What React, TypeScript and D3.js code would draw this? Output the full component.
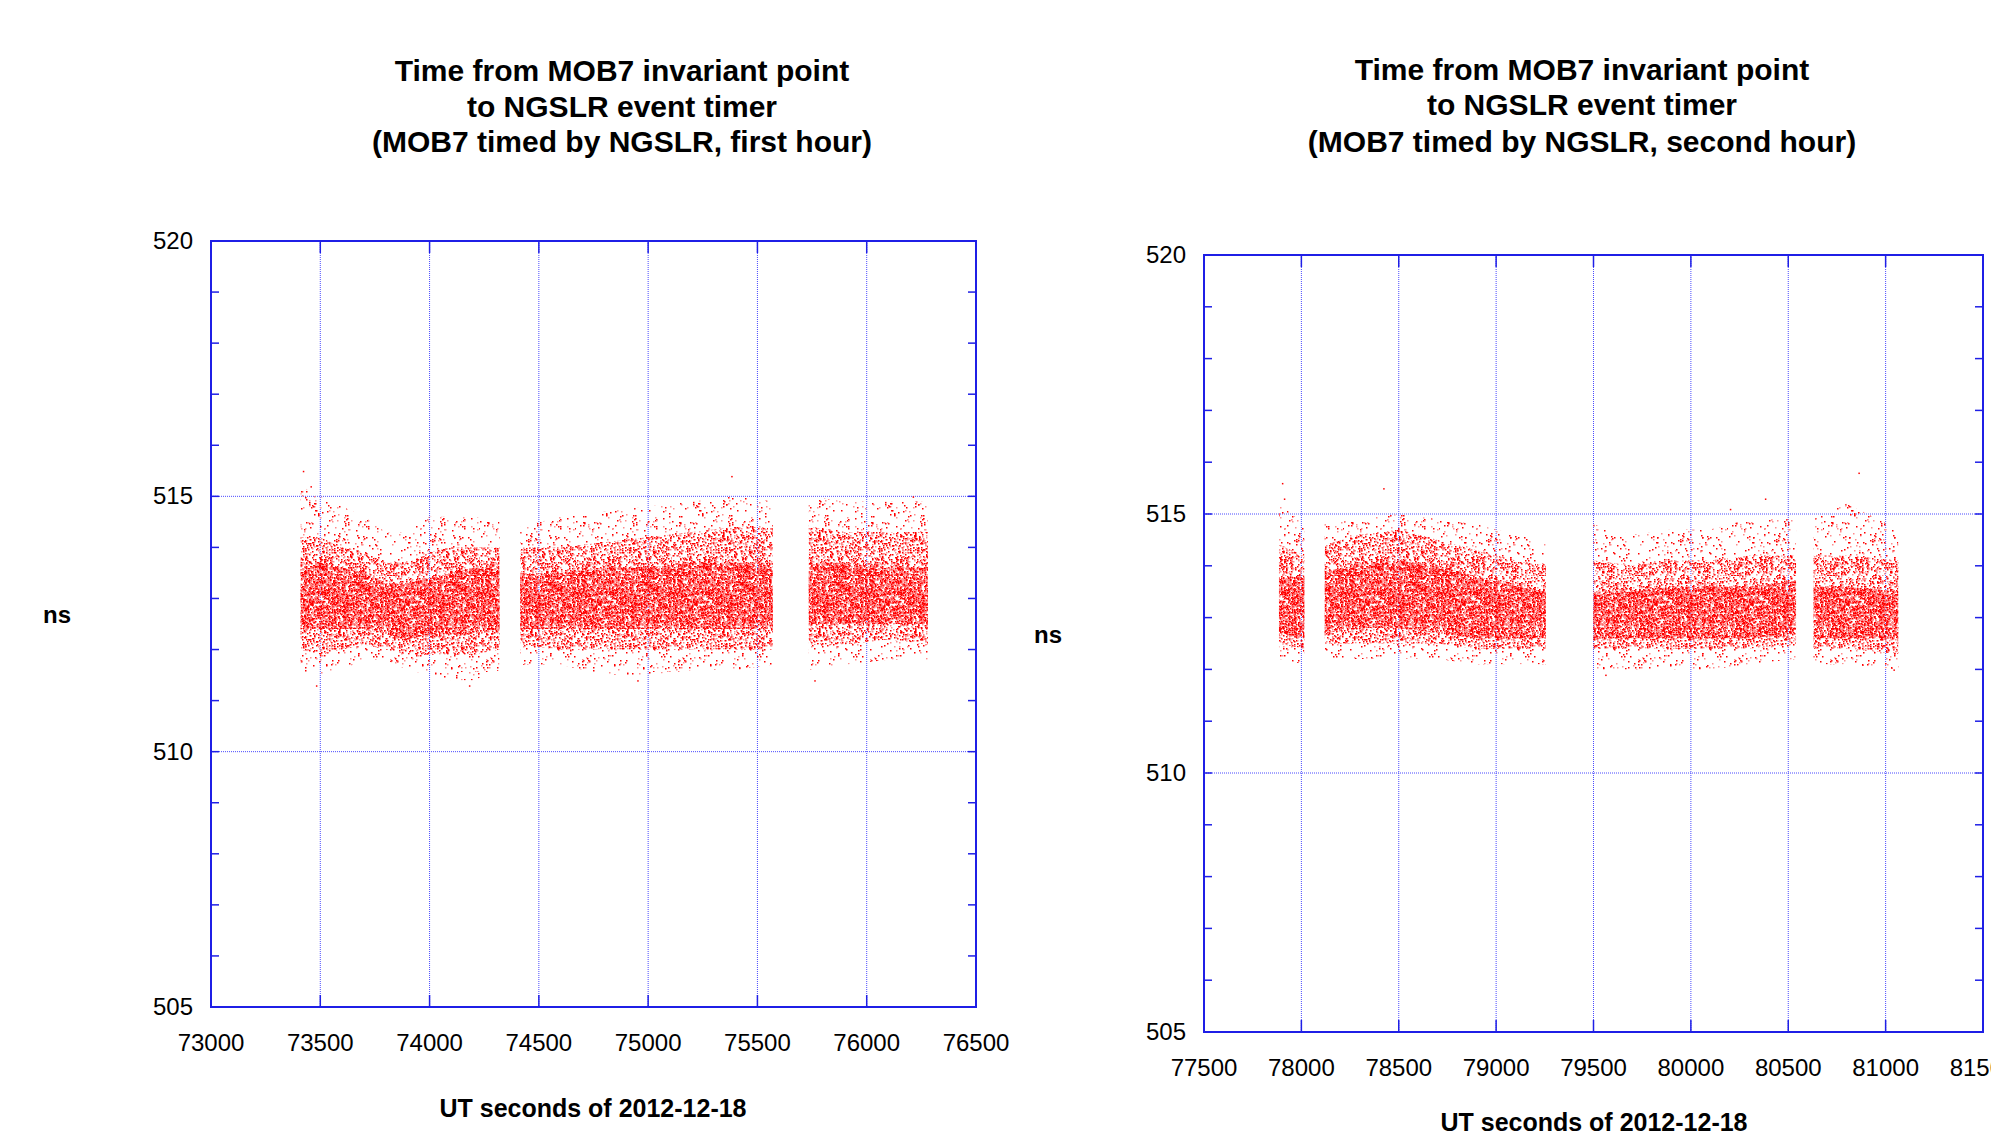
import { useMemo } from 'react';
import * as d3 from 'd3';

// Band tuples: [seconds, outLo, midLo, coreLo, coreHi, midHi, outHi] (ns)
const left1 = [
  [73410, 511.5, 512.0, 512.4, 513.6, 514.2, 515.2],
  [73500, 511.5, 511.9, 512.4, 513.7, 514.2, 515.0],
  [73600, 511.6, 512.0, 512.4, 513.6, 514.0, 514.8],
  [73700, 511.8, 512.1, 512.4, 513.5, 513.9, 514.6],
  [73800, 511.8, 512.0, 512.3, 513.3, 513.7, 514.3],
  [73900, 511.6, 511.9, 512.2, 513.3, 513.7, 514.3],
  [74000, 511.5, 511.9, 512.3, 513.4, 513.9, 514.6],
  [74100, 511.4, 511.9, 512.3, 513.5, 514.0, 514.6],
  [74200, 511.4, 511.9, 512.3, 513.6, 514.0, 514.6],
  [74320, 511.6, 512.0, 512.4, 513.6, 514.0, 514.5],
];
const left2 = [
  [74415, 511.7, 512.1, 512.4, 513.5, 514.0, 514.4],
  [74600, 511.7, 512.0, 512.4, 513.5, 514.0, 514.6],
  [74800, 511.5, 512.0, 512.4, 513.6, 514.1, 514.7],
  [75000, 511.5, 512.0, 512.4, 513.6, 514.2, 514.8],
  [75200, 511.6, 512.0, 512.4, 513.7, 514.3, 514.9],
  [75400, 511.6, 512.0, 512.4, 513.7, 514.4, 515.0],
  [75570, 511.7, 512.0, 512.4, 513.7, 514.4, 514.9],
];
const left3 = [
  [75735, 511.6, 512.1, 512.5, 513.7, 514.4, 515.0],
  [75900, 511.7, 512.1, 512.5, 513.7, 514.3, 514.9],
  [76100, 511.8, 512.2, 512.5, 513.6, 514.3, 514.9],
  [76280, 511.8, 512.1, 512.5, 513.6, 514.3, 514.9],
];
const right1 = [
  [77885, 512.2, 512.5, 512.7, 513.8, 514.4, 515.2],
  [78015, 512.1, 512.4, 512.6, 513.8, 514.2, 514.8],
];
const right2 = [
  [78120, 512.2, 512.5, 512.7, 513.9, 514.4, 514.8],
  [78300, 512.2, 512.5, 512.8, 514.0, 514.6, 514.9],
  [78500, 512.2, 512.5, 512.8, 514.1, 514.7, 515.0],
  [78700, 512.2, 512.5, 512.7, 514.0, 514.5, 514.9],
  [78900, 512.1, 512.4, 512.6, 513.8, 514.3, 514.8],
  [79100, 512.1, 512.4, 512.6, 513.6, 514.1, 514.6],
  [79255, 512.1, 512.4, 512.6, 513.5, 514.0, 514.5],
];
const right3 = [
  [79500, 512.0, 512.4, 512.6, 513.5, 514.1, 514.8],
  [79700, 512.0, 512.4, 512.6, 513.5, 514.0, 514.6],
  [79900, 512.0, 512.4, 512.6, 513.6, 514.1, 514.7],
  [80100, 512.0, 512.4, 512.6, 513.6, 514.1, 514.7],
  [80300, 512.1, 512.4, 512.6, 513.6, 514.2, 514.9],
  [80540, 512.2, 512.5, 512.7, 513.7, 514.2, 514.9],
];
const right4 = [
  [80630, 512.1, 512.4, 512.6, 513.6, 514.2, 514.9],
  [80800, 512.1, 512.4, 512.6, 513.6, 514.2, 515.2],
  [81065, 512.0, 512.3, 512.6, 513.5, 514.1, 514.7],
];

// single stray points
const leftOutliers = [
  [73420, 515.5], [73455, 515.2], [73480, 511.3], [74180, 511.3],
  [75380, 515.4], [74950, 511.4], [75760, 511.4], [76210, 515.0],
];
const rightOutliers = [
  [77900, 515.6], [77910, 515.3], [78420, 515.5], [80860, 515.8],
  [80380, 515.3], [79560, 511.9], [80200, 515.1], [81040, 512.0],
];

const leftTicksX = [73000, 73500, 74000, 74500, 75000, 75500, 76000, 76500];
const rightTicksX = [77500, 78000, 78500, 79000, 79500, 80000, 80500, 81000, 81500];
const ticksY = [505, 510, 515, 520];
const minorY = d3.range(505, 521, 1);

const leftTitle = ['Time from MOB7 invariant point', 'to NGSLR event timer', '(MOB7 timed by NGSLR, first hour)'];
const rightTitle = ['Time from MOB7 invariant point', 'to NGSLR event timer', '(MOB7 timed by NGSLR, second hour)'];

const FONT = '"Liberation Sans", Arial, Helvetica, sans-serif';
const FRAME = '#1f1fe6';
const GRID = '#4a4aff';

// speckle texture used to fill the bands (a fill style only)
function speckle(count: number, size: number, seed: number) {
  const out: { x: number; y: number; pink: boolean }[] = [];
  for (let i = 0; i < count; i++) {
    const h1 = Math.sin((i + 1) * 12.9898 + seed * 78.233) * 43758.5453;
    const h2 = Math.sin((i + 1) * 39.3468 + seed * 11.135) * 24634.6345;
    const h3 = Math.sin((i + 1) * 73.156 + seed * 52.235) * 15731.743;
    out.push({
      x: Math.floor((h1 - Math.floor(h1)) * size),
      y: Math.floor((h2 - Math.floor(h2)) * size),
      pink: h3 - Math.floor(h3) > 0.6,
    });
  }
  return out;
}

function Pattern({ id, count, seed }: { id: string; count: number; seed: number }) {
  const size = 96;
  const dots = useMemo(() => speckle(count, size, seed), [count, seed]);
  return (
    <pattern id={id} patternUnits="userSpaceOnUse" width={size} height={size}>
      {dots.map((d, i) => (
        <rect key={i} x={d.x} y={d.y} width={1.5} height={1.5} fill={d.pink ? '#ff8c8c' : '#ff0000'} />
      ))}
    </pattern>
  );
}

type Panel = {
  x0: number; x1: number; y0: number; y1: number;
  domain: [number, number];
  ticks: number[];
  segments: number[][][];
  outliers: number[][];
  title: string[];
  titleX: number; titleY: number[];
  nsX: number; nsY: number;
  xTitleX: number; xTitleY: number;
};

function ScatterPanel(p: Panel) {
  const x = d3.scaleLinear().domain(p.domain).range([p.x0, p.x1]);
  const y = d3.scaleLinear().domain([505, 520]).range([p.y1, p.y0]);

  const band = (lo: number, hi: number) =>
    d3.area<number[]>().x(d => x(d[0])).y0(d => y(d[lo])).y1(d => y(d[hi]));
  const outer = band(1, 6);
  const mid = band(2, 5);
  const core = band(3, 4);

  return (
    <g>
      {p.title.map((t, i) => (
        <text key={i} x={p.titleX} y={p.titleY[i]} textAnchor="middle" fontFamily={FONT}
          fontWeight="bold" fontSize={30}>{t}</text>
      ))}

      {/* grid */}
      {p.ticks.map(t => (
        <line key={'gx' + t} x1={x(t)} x2={x(t)} y1={p.y0} y2={p.y1} stroke={GRID}
          strokeWidth={1} strokeDasharray="1 1" />
      ))}
      {ticksY.map(t => (
        <line key={'gy' + t} x1={p.x0} x2={p.x1} y1={y(t)} y2={y(t)} stroke={GRID}
          strokeWidth={1} strokeDasharray="1 1" />
      ))}

      {/* data */}
      {p.segments.map((s, i) => (
        <g key={'s' + i}>
          <path d={outer(s) ?? ''} fill="url(#spOuter)" />
          <path d={mid(s) ?? ''} fill="url(#spMid)" />
          <path d={core(s) ?? ''} fill="url(#spCore)" />
        </g>
      ))}
      {p.outliers.map((d, i) => (
        <rect key={'o' + i} x={x(d[0])} y={y(d[1])} width={1.5} height={1.5} fill="#ff0000" />
      ))}

      {/* frame + ticks */}
      <rect x={p.x0} y={p.y0} width={p.x1 - p.x0} height={p.y1 - p.y0} fill="none"
        stroke={FRAME} strokeWidth={2} />
      {minorY.map(t => (
        <g key={'my' + t}>
          <line x1={p.x0} x2={p.x0 + 8} y1={y(t)} y2={y(t)} stroke={FRAME} strokeWidth={1.5} />
          <line x1={p.x1} x2={p.x1 - 8} y1={y(t)} y2={y(t)} stroke={FRAME} strokeWidth={1.5} />
        </g>
      ))}
      {p.ticks.map(t => (
        <g key={'mx' + t}>
          <line x1={x(t)} x2={x(t)} y1={p.y0} y2={p.y0 + 12} stroke={FRAME} strokeWidth={1.5} />
          <line x1={x(t)} x2={x(t)} y1={p.y1} y2={p.y1 - 12} stroke={FRAME} strokeWidth={1.5} />
        </g>
      ))}

      {/* labels */}
      {ticksY.map(t => (
        <text key={'ly' + t} x={p.x0 - 18} y={y(t) + 8} textAnchor="end" fontFamily={FONT}
          fontSize={24}>{t}</text>
      ))}
      {p.ticks.map(t => (
        <text key={'lx' + t} x={x(t)} y={p.y1 + 44} textAnchor="middle" fontFamily={FONT}
          fontSize={24}>{t}</text>
      ))}
      <text x={p.nsX} y={p.nsY} textAnchor="middle" fontFamily={FONT} fontWeight="bold"
        fontSize={24}>ns</text>
      <text x={p.xTitleX} y={p.xTitleY} textAnchor="middle" fontFamily={FONT} fontWeight="bold"
        fontSize={25}>UT seconds of 2012-12-18</text>
    </g>
  );
}

export default function App() {
  return (
    <svg width={1991} height={1131} style={{ position: 'absolute', left: 0, top: 0, background: '#fff' }}>
      <defs>
        <Pattern id="spOuter" count={380} seed={1} />
        <Pattern id="spMid" count={1700} seed={2} />
        <Pattern id="spCore" count={3800} seed={3} />
      </defs>
      <rect width={1991} height={1131} fill="#fff" />
      <ScatterPanel
        x0={211} x1={976} y0={241} y1={1007}
        domain={[73000, 76500]} ticks={leftTicksX}
        segments={[left1, left2, left3]} outliers={leftOutliers}
        title={leftTitle} titleX={622} titleY={[81, 117, 152]}
        nsX={57} nsY={623} xTitleX={593} xTitleY={1117}
      />
      <ScatterPanel
        x0={1204} x1={1983} y0={255} y1={1032}
        domain={[77500, 81500]} ticks={rightTicksX}
        segments={[right1, right2, right3, right4]} outliers={rightOutliers}
        title={rightTitle} titleX={1582} titleY={[80, 115, 152]}
        nsX={1048} nsY={643} xTitleX={1594} xTitleY={1131}
      />
    </svg>
  );
}
